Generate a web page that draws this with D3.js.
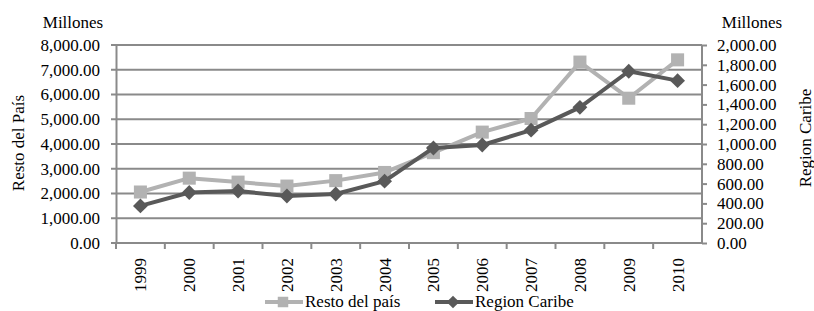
<!DOCTYPE html>
<html>
<head>
<meta charset="utf-8">
<script src="https://cdn.jsdelivr.net/npm/d3@7"></script>
<style>
  body { margin: 0; background: #fff; }
  svg text { font-family: "Times New Roman", "Liberation Serif", "DejaVu Serif", serif !important; fill: #000; }
</style>
</head>
<body>
<div id="chart"></div>
<script>
const years = ["1999", "2000", "2001", "2002", "2003", "2004", "2005", "2006", "2007", "2008", "2009", "2010"];
const restoValues = [2060, 2620, 2460, 2300, 2520, 2850, 3650, 4480, 5030, 7310, 5850, 7400];
const caribeValues = [375, 510, 525, 475, 495, 625, 960, 990, 1140, 1370, 1735, 1640];
const leftTicks = [0, 1000, 2000, 3000, 4000, 5000, 6000, 7000, 8000];
const rightTicks = [0, 200, 400, 600, 800, 1000, 1200, 1400, 1600, 1800, 2000];

const width = 814, height = 311;
const margin = { top: 45, right: 112, bottom: 68, left: 116 };
const w = width - margin.left - margin.right;
const h = height - margin.top - margin.bottom;
const fmt = d3.format(",.2f");
const fontSize = "17px";
const gridColor = "#8a8a8a";
const restoColor = "#b2b2b2";
const caribeColor = "#595959";

const svg = d3.select("#chart").append("svg")
  .attr("width", width).attr("height", height);
const g = svg.append("g").attr("transform", `translate(${margin.left},${margin.top})`);

const x = d3.scaleBand().domain(years).range([0, w]);
const yL = d3.scaleLinear().domain([0, 8000]).range([h, 0]);
const yR = d3.scaleLinear().domain([0, 2000]).range([h, 0]);

// gridlines
g.selectAll(".grid")
  .data(leftTicks)
  .enter()
  .append("line")
  .attr("x1", -5).attr("x2", w)
  .attr("y1", (d) => yL(d)).attr("y2", (d) => yL(d))
  .attr("stroke", gridColor).attr("stroke-width", 2);

// left axis
const left = g.append("g")
  .call(d3.axisLeft(yL).tickValues(leftTicks).tickFormat(fmt).tickSize(0).tickPadding(16))
  .attr("font-family", null);
left.select(".domain").attr("stroke", gridColor).attr("stroke-width", 2);
left.selectAll("text").style("font-size", fontSize);

// right axis
const right = g.append("g").attr("transform", `translate(${w},0)`)
  .call(d3.axisRight(yR).tickValues(rightTicks).tickFormat(fmt).tickSize(5).tickPadding(10))
  .attr("font-family", null);
right.select(".domain").attr("stroke", gridColor).attr("stroke-width", 2).attr("d", `M0,0V${h}`);
right.selectAll(".tick line").attr("stroke", gridColor).attr("stroke-width", 2);
right.selectAll("text").style("font-size", fontSize);

// bottom axis: ticks between categories
const bottom = g.append("g").attr("transform", `translate(0,${h})`);
bottom.append("line").attr("x1", -5).attr("x2", w)
  .attr("stroke", gridColor).attr("stroke-width", 2);
bottom.selectAll(".sep")
  .data(years)
  .enter()
  .append("line")
  .attr("x1", (d) => x(d)).attr("x2", (d) => x(d))
  .attr("y1", 0).attr("y2", 6)
  .attr("stroke", gridColor).attr("stroke-width", 2);
bottom.selectAll(".year")
  .data(years)
  .enter()
  .append("text")
  .attr("transform", (d) => `translate(${x(d) + x.bandwidth() / 2 + 6},${15}) rotate(-90)`)
  .attr("text-anchor", "end")
  .style("font-size", fontSize)
  .text((d) => d);

// series
const cx = (d, i) => x(years[i]) + x.bandwidth() / 2;
const restoLine = d3.line().x(cx).y((d) => yL(d));
const caribeLine = d3.line().x(cx).y((d) => yR(d));

g.append("path").datum(restoValues)
  .attr("d", restoLine).attr("fill", "none")
  .attr("stroke", restoColor).attr("stroke-width", 4).attr("stroke-linejoin", "round");
g.selectAll(".sq")
  .data(restoValues)
  .enter()
  .append("path")
  .attr("d", d3.symbol(d3.symbolSquare, 170))
  .attr("transform", (d, i) => `translate(${cx(d, i)},${yL(d)})`)
  .attr("fill", restoColor);

g.append("path").datum(caribeValues)
  .attr("d", caribeLine).attr("fill", "none")
  .attr("stroke", caribeColor).attr("stroke-width", 4).attr("stroke-linejoin", "round");
g.selectAll(".dm")
  .data(caribeValues)
  .enter()
  .append("path")
  .attr("d", d3.symbol(d3.symbolSquare, 110))
  .attr("transform", (d, i) => `translate(${cx(d, i)},${yR(d)}) rotate(45)`)
  .attr("fill", caribeColor);

// titles
svg.append("text").attr("x", 73).attr("y", 28).attr("text-anchor", "middle")
  .style("font-size", fontSize).text("Millones");
svg.append("text").attr("x", 752).attr("y", 28).attr("text-anchor", "middle")
  .style("font-size", fontSize).text("Millones");
svg.append("text").attr("transform", "translate(24,143) rotate(-90)").attr("text-anchor", "middle")
  .style("font-size", fontSize).text("Resto del País");
svg.append("text").attr("transform", "translate(811,138) rotate(-90)").attr("text-anchor", "middle")
  .style("font-size", fontSize).text("Region Caribe");

// legend
const legend = svg.append("g").attr("transform", "translate(0,302)");
const items = [
  { label: "Resto del país", color: restoColor, x: 265, marker: "square" },
  { label: "Region Caribe", color: caribeColor, x: 435, marker: "diamond" },
];
items.forEach((it) => {
  legend.append("line").attr("x1", it.x).attr("x2", it.x + 38)
    .attr("stroke", it.color).attr("stroke-width", 4);
  legend.append("path")
    .attr("d", d3.symbol(d3.symbolSquare, it.marker === "square" ? 110 : 80))
    .attr("transform", `translate(${it.x + 18},0)` + (it.marker === "diamond" ? " rotate(45)" : ""))
    .attr("fill", it.color);
  legend.append("text").attr("x", it.x + 40).attr("y", 5)
    .style("font-size", fontSize).text(it.label);
});
</script>
</body>
</html>
